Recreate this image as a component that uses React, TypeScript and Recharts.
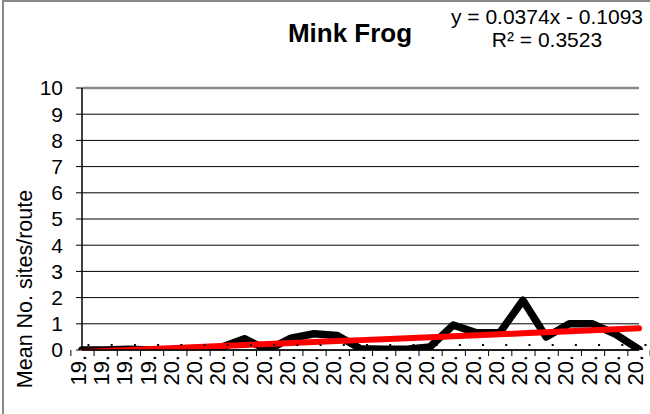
import React from 'react';
import { LineChart, Line, XAxis, YAxis, CartesianGrid, ReferenceLine } from 'recharts';

// survey years (labels are truncated in the original to "19." / "20.")
const years = [
  '1996', '1997', '1998', '1999', '2000', '2001', '2002', '2003', '2004', '2005',
  '2006', '2007', '2008', '2009', '2010', '2011', '2012', '2013', '2014', '2015',
  '2016', '2017', '2018', '2019', '2020',
];
const tickLabels = [
  '19.', '19.', '19.', '19.', '20.', '20.', '20.', '20.', '20.', '20.',
  '20.', '20.', '20.', '20.', '20.', '20.', '20.', '20.', '20.', '20.',
  '20.', '20.', '20.', '20.', '20.',
];
const meanSites = [
  0, 0, 0.03, 0, 0, 0.05, 0.1, 0.43, 0, 0.45,
  0.62, 0.55, 0.05, 0.03, 0.03, 0.12, 0.95, 0.66, 0.66, 1.9,
  0.5, 1.0, 1.0, 0.6, 0.02,
];
const yTicks = [0, 1, 2, 3, 4, 5, 6, 7, 8, 9, 10];
// linear trendline as printed on the chart
const trendSlope = 0.0374;
const trendIntercept = -0.1093;

const W = 650;
const H = 414;
const margin = { top: 88, right: 11, bottom: 14, left: 22 };
const yAxisW = 60;
const plotW = W - margin.left - yAxisW - margin.right;
const band = plotW / years.length;
const font = '"Liberation Sans", Arial, sans-serif';

const data = years.map((y, i) => ({
  year: y,
  label: tickLabels[i],
  mean: meanSites[i],
  trend: trendSlope * (i + 1) + trendIntercept,
}));

const XTick = (props: any) => {
  const { x, y, index, payload } = props;
  const label = tickLabels[index] ?? payload.value;
  const last = index === years.length - 1;
  return (
    <g>
      <line x1={x - band / 2} y1={y} x2={x - band / 2} y2={y + 6} stroke="#000" />
      {last && <line x1={x + band / 2} y1={y} x2={x + band / 2} y2={y + 6} stroke="#000" />}
      <rect x={x + 5.5} y={y - 6} width={2} height={2} fill="#000" />
      <text
        x={x + 4}
        y={y + 5}
        transform={`rotate(-90, ${x + 4}, ${y + 5})`}
        textAnchor="end"
        fontSize={22}
        fontFamily={font}
        fill="#000"
      >
        {label}
      </text>
    </g>
  );
};

export default function App() {
  return (
    <div style={{ position: 'absolute', left: 0, top: 0, width: W, height: H, background: '#fff', fontFamily: font }}>
      <div style={{ position: 'absolute', left: 2, top: 0, width: W, height: H, borderLeft: '2px solid #888', borderTop: '2px solid #888' }} />
      <LineChart width={W} height={H} data={data} margin={margin}>
        <CartesianGrid horizontal vertical={false} stroke="#000" strokeWidth={1} />
        <XAxis
          dataKey="year"
          interval={0}
          tickLine={false}
          tickSize={0}
          tickMargin={0}
          height={50}
          axisLine={{ stroke: '#000', strokeWidth: 1.5 }}
          tick={<XTick />}
        />
        <YAxis
          domain={[0, 10]}
          ticks={yTicks}
          interval={0}
          allowDataOverflow
          width={yAxisW}
          tickSize={6}
          tickMargin={13}
          tick={{ fill: '#000', fontSize: 21, fontFamily: font }}
          tickLine={{ stroke: '#000' }}
          axisLine={{ stroke: '#000', strokeWidth: 1.5 }}
        />
        <YAxis yAxisId="r" orientation="right" width={0} tick={false} tickLine={false} axisLine={{ stroke: '#888', strokeWidth: 2.5 }} />
        <ReferenceLine y={10} stroke="#888" strokeWidth={2.5} />
        <Line
          dataKey="mean"
          stroke="#000"
          strokeWidth={7.5}
          strokeLinejoin="round"
          strokeLinecap="round"
          dot={false}
          isAnimationActive={false}
        />
        <Line
          dataKey="trend"
          stroke="#ff0000"
          strokeWidth={6}
          strokeLinecap="round"
          dot={false}
          isAnimationActive={false}
        />
      </LineChart>
      <svg width={W} height={H} style={{ position: 'absolute', left: 0, top: 0, pointerEvents: 'none' }}>
        <text x={350} y={42} textAnchor="middle" fontSize={26} fontWeight="bold" fontFamily={font} fill="#000">
          Mink Frog
        </text>
        <text x={547} y={24} textAnchor="middle" fontSize={21} fontFamily={font} fill="#000">
          y = 0.0374x - 0.1093
        </text>
        <text x={547} y={47} textAnchor="middle" fontSize={21} fontFamily={font} fill="#000">
          R² = 0.3523
        </text>
        <text
          x={32}
          y={289}
          transform="rotate(-90, 32, 289)"
          textAnchor="middle"
          fontSize={21.5}
          fontFamily={font}
          fill="#000"
        >
          Mean No. sites/route
        </text>
      </svg>
    </div>
  );
}
